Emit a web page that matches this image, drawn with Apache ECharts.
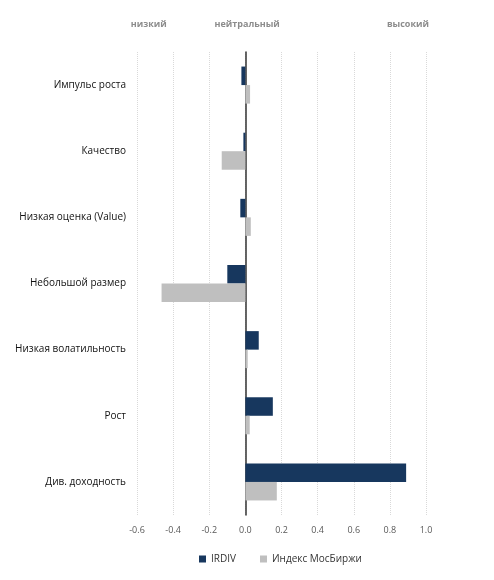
<!DOCTYPE html>
<html><head><meta charset="utf-8">
<script src="https://cdn.jsdelivr.net/npm/echarts@6/dist/echarts.min.js"></script>
<style>html,body{margin:0;padding:0;background:#fff}#c{width:494px;height:580px}</style>
</head><body><div id="c"></div>
<script>
var categories = ['Импульс роста','Качество','Низкая оценка (Value)','Небольшой размер','Низкая волатильность','Рост','Див. доходность'];
var irdiv = [-0.022,-0.011,-0.028,-0.10,0.074,0.152,0.89];
var moex = [0.026,-0.131,0.03,-0.464,0.013,0.024,0.174];
var seriesNames = ['IRDIV','Индекс МосБиржи'];
var xTicks = {min:-0.6, max:1.0, interval:0.2};
var topLabels = [{text:'низкий', v:-0.535},{text:'нейтральный', v:0.01},{text:'высокий', v:0.9}];

var chart = echarts.init(document.getElementById('c'));
var font = 'Open Sans';
chart.setOption({
  animation:false,
  textStyle:{fontFamily:font},
  grid:{left:137, right:68, top:52, bottom:65},
  xAxis:{type:'value', min:xTicks.min, max:xTicks.max, interval:xTicks.interval,
    axisLine:{show:false}, axisTick:{show:false},
    axisLabel:{color:'#595959', fontSize:9, margin:11, formatter:function(v){return v.toFixed(1);}},
    splitLine:{show:true, lineStyle:{color:'#d9d9d9', type:[1,1], width:1}}},
  yAxis:{type:'category', data:categories, inverse:true,
    axisLine:{show:true, onZero:true, lineStyle:{color:'#333', width:1.5}},
    axisTick:{show:false},
    axisLabel:{color:'#111', fontSize:10, margin:11}},
  legend:{bottom:11, left:194, itemWidth:7, itemHeight:7, itemGap:24, icon:'rect',
    textStyle:{fontSize:10, color:'#333', fontFamily:font}, data:seriesNames},
  series:[
    {name:seriesNames[0], type:'bar', data:irdiv, barGap:'0%', barCategoryGap:'44%',
     itemStyle:{color:'#17375e'}},
    {name:seriesNames[1], type:'bar', data:moex, barGap:'0%', barCategoryGap:'44%',
     itemStyle:{color:'#bfbfbf'}}
  ]
});
var g = topLabels.map(function(t){
  var x = chart.convertToPixel({gridIndex:0}, [t.v, 0])[0];
  return {type:'text', x:x, y:24, style:{text:t.text, fill:'#8c8c8c', font:'bold 9px "'+font+'"', textAlign:'center', textVerticalAlign:'middle'}};
});
chart.setOption({graphic:g});
</script></body></html>
